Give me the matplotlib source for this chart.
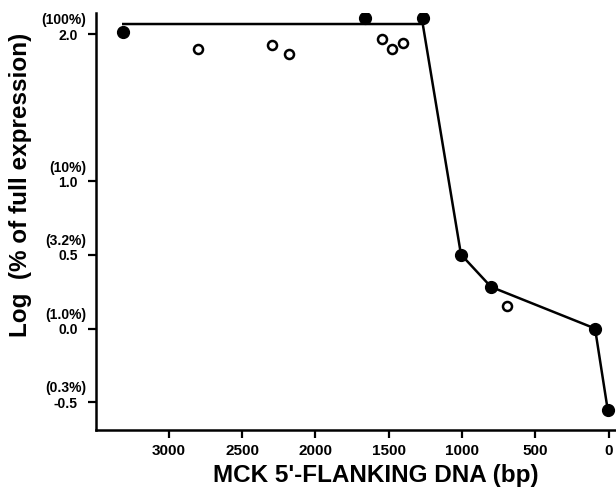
import matplotlib
matplotlib.use('Agg')
import matplotlib.pyplot as plt

plt.rcParams['font.family'] = ['Liberation Sans', 'DejaVu Sans']
plt.rcParams['font.weight'] = 'bold'

# filled circles (bp, log % expression)
filled_bp = [3312, 1662, 1268, 1007, 802, 92, 5]
filled_log = [2.015, 2.11, 2.11, 0.503, 0.283, 0.0, -0.556]

# open circles
open_bp = [2804, 2299, 2179, 1544, 1476, 1401, 691]
open_log = [1.90, 1.927, 1.866, 1.97, 1.90, 1.939, 0.154]

# fitted line
line_bp = [3312, 1268, 1007, 802, 92, 5]
line_log = [2.07, 2.07, 0.503, 0.283, 0.0, -0.556]

xticks = [3000, 2500, 2000, 1500, 1000, 500, 0]
yticks = [2.0, 1.0, 0.5, 0.0, -0.5]
ytick_labels = ['2.0', '1.0', '0.5', '0.0', '-0.5']
pct_labels = ['(100%)', '(10%)', '(3.2%)', '(1.0%)', '(0.3%)']

fig = plt.figure(figsize=(6.16, 4.92), dpi=100)
ax = fig.add_axes([0.1554, 0.126, 0.8446, 0.8476])

ax.plot(line_bp, line_log, color='black', lw=1.8, zorder=2)
ax.plot(filled_bp, filled_log, 'o', color='black', ms=8.5, zorder=3)
ax.plot(open_bp, open_log, 'o', mfc='white', mec='black', ms=6.5, mew=1.8, zorder=3)

ax.set_xlim(3500, -51)
ax.set_ylim(-0.69, 2.145)

ax.set_xticks(xticks)
ax.set_xticklabels([str(t) for t in xticks], fontsize=11, fontweight='bold')
ax.set_yticks(yticks)
ax.set_yticklabels(ytick_labels, fontsize=10, fontweight='bold')

ax.tick_params(axis='both', direction='out', length=6, width=1.6, pad=4)
ax.tick_params(axis='y', pad=7)

# percentage labels above the y tick numbers
for yv, pl in zip(yticks, pct_labels):
    ax.annotate(pl, xy=(0, yv), xycoords=('axes fraction', 'data'),
                xytext=(-7, 10), textcoords='offset points',
                ha='right', va='center', fontsize=10, fontweight='bold')

for s in ['top', 'right']:
    ax.spines[s].set_visible(False)
for s in ['left', 'bottom']:
    ax.spines[s].set_linewidth(1.8)

ax.set_xlabel("MCK 5'-FLANKING DNA (bp)", fontsize=17.5, fontweight='bold')
ax.xaxis.set_label_coords(0.539, -0.108)
ax.xaxis.label.set_verticalalignment('center')

ax.set_ylabel('Log  (% of full expression)', fontsize=17.5, fontweight='bold')
ax.yaxis.set_label_coords(-0.145, 0.588)
ax.yaxis.label.set_verticalalignment('center')

fig.savefig('out.png', dpi=100)
